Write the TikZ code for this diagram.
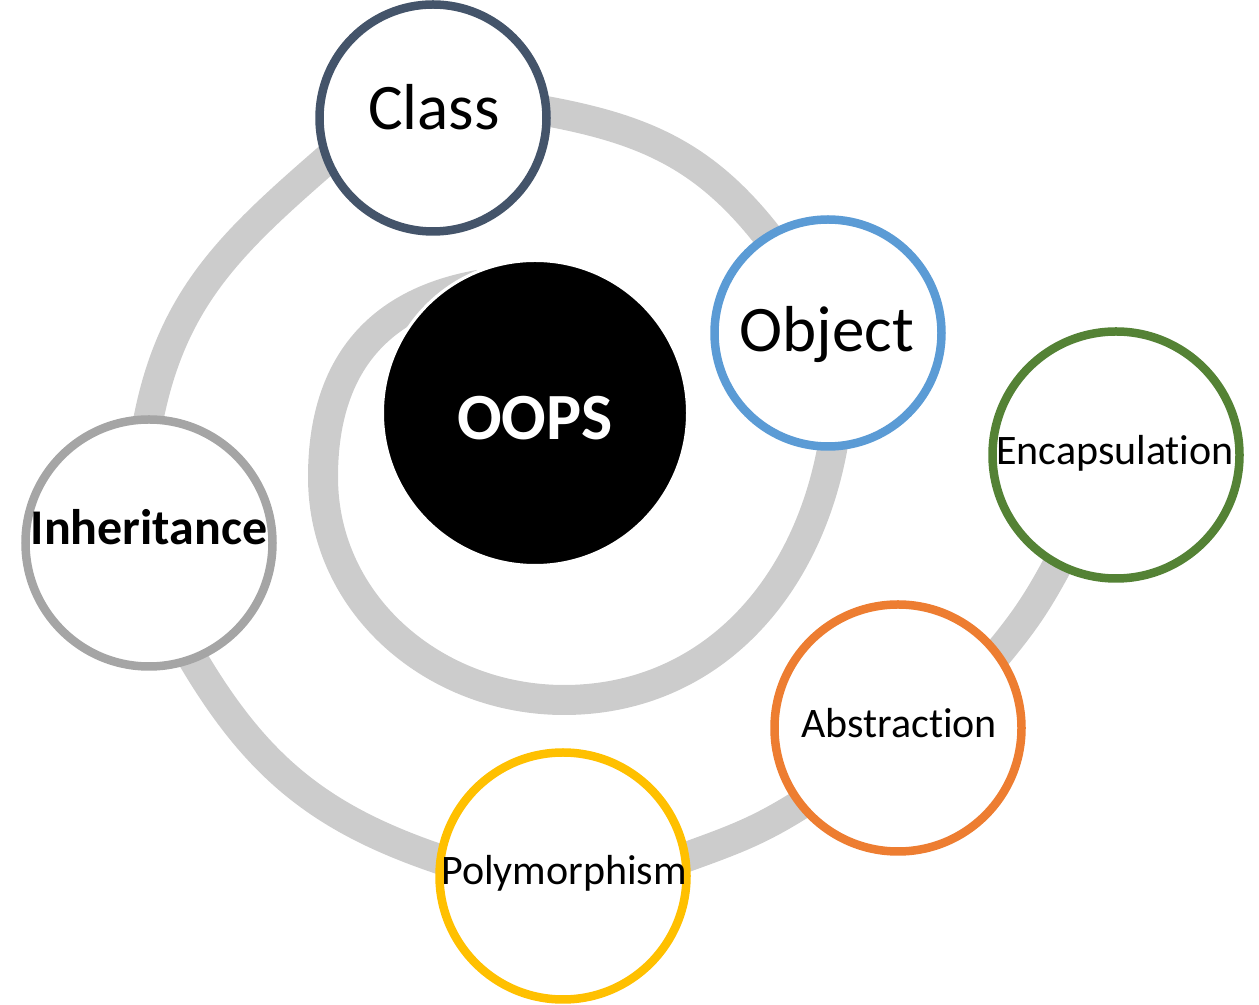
\documentclass[tikz,border=0pt]{standalone}
\usepackage{fontspec}
\setmainfont{Carlito}[Ligatures=NoCommon]
\usetikzlibrary{backgrounds}
\definecolor{clsline}{HTML}{44546A}
\definecolor{objline}{HTML}{5B9BD5}
\definecolor{encline}{HTML}{548235}
\definecolor{absline}{HTML}{ED7D31}
\definecolor{polyline}{HTML}{FFC000}
\definecolor{inhline}{HTML}{A5A5A5}
\definecolor{linkgray}{HTML}{CCCCCC}
\begin{document}
\begin{tikzpicture}[x=1bp,y=1bp,
  bub/.style={circle,fill=white,line width=8.5bp,minimum size=227bp,inner sep=0pt},
  bubs/.style={bub,minimum size=247bp},
  link/.style={line width=30bp,draw=linkgray,shorten <=-14bp,shorten >=-14bp},
  big/.style={font=\fontsize{65bp}{78bp}\selectfont},
  small/.style={font=\fontsize{42bp}{50bp}\selectfont}]
\useasboundingbox (0,0) rectangle (1259,1005);
\node[bub,draw=clsline] (cls) at (433,887) {};
\node[bub,draw=objline] (obj) at (828,672) {};
\node[bubs,draw=encline] (enc) at (1116,550) {};
\node[bubs,draw=absline] (abs) at (898,277) {};
\node[bubs,draw=polyline] (poly) at (563,129) {};
\node[bubs,draw=inhline] (inh) at (149,462) {};
\node[circle,fill=black,draw=white,line width=3bp,minimum size=305bp,inner sep=0pt] (oops) at (535,592) {};
\coordinate (loopb) at (564,305);
\coordinate (loopl) at (323,528);
\node[big,anchor=base] (clst) at (434,875) {Class};
\node[big,anchor=base] (objt) at (827,653) {Object};
\node[font=\fontsize{66bp}{78bp}\selectfont\bfseries,text=white,anchor=base] (oopst) at (535,565) {OOPS};
\node[font=\fontsize{50bp}{60bp}\selectfont\bfseries,anchor=base] (inht) at (149,460) {Inheritance};
\node[small,anchor=base] (enct) at (1115,540) {Encapsulation};
\node[small,anchor=base] (abst) at (899,267) {Abstraction};
\node[small,anchor=base] (polyt) at (564,120) {Polymorphism};
\begin{scope}[on background layer]
\draw[link] (cls.3) to[out=-10,in=127] (obj.122);
\draw[link] (cls.202) to[out=221,in=80] (inh.90);
\draw[link] (inh.-69) to[out=-60,in=162] (poly.172);
\draw[link] (poly.9) to[out=20,in=213] (abs.218);
\draw[link] (abs.37) to[out=50,in=242] (enc.242);
\draw[link,shorten >=-40bp] (obj.-88) to[out=-99,in=0] (loopb) to[out=180,in=-90] (loopl) to[out=90,in=190] (oops.128);
\end{scope}
\end{tikzpicture}
\end{document}
